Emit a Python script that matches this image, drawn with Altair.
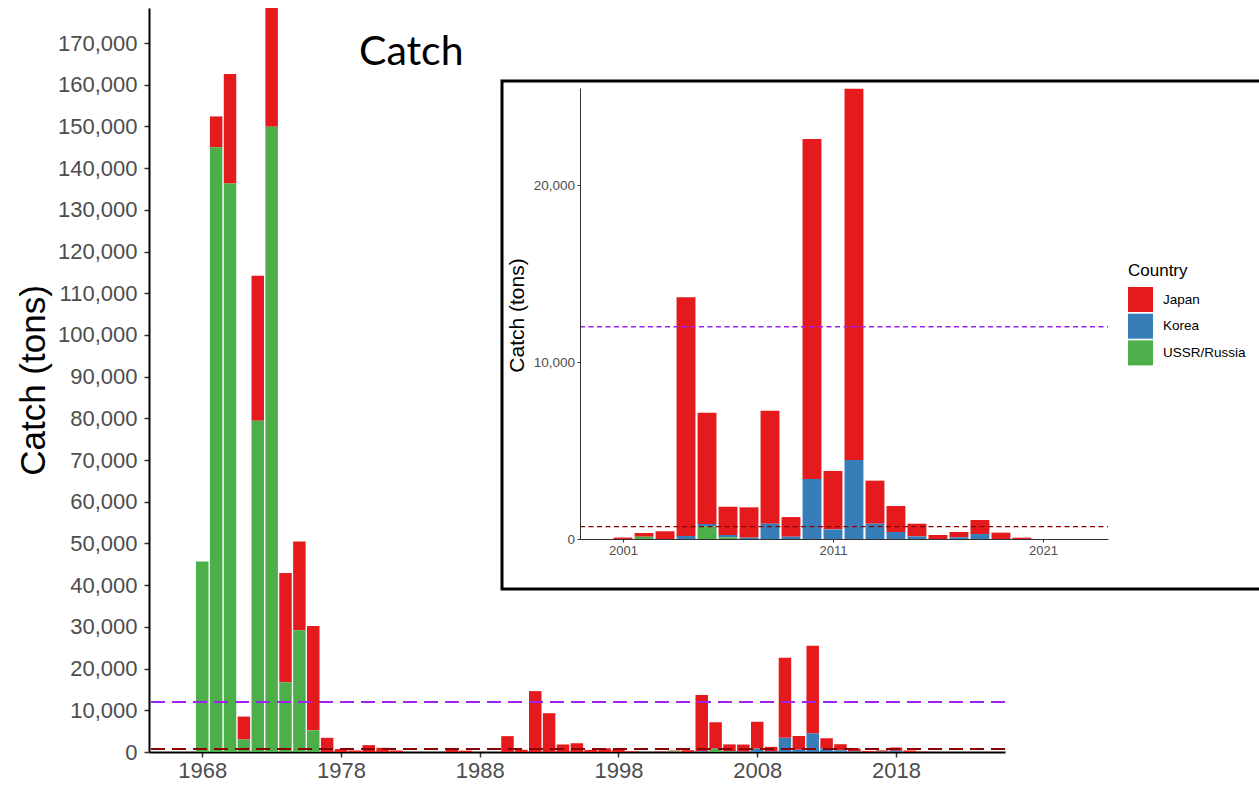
import altair as alt
import pandas as pd

# Annual catch (tons) by fishing country, 1968-2022
years = list(range(1968, 2023))
japan = [
    0, 7400, 26300, 5500, 34800, 28500, 26200, 21300, 25000, 3400,      # 1968-1977
    700, 360, 1650, 1000, 360, 0, 0, 0, 700, 320,                       # 1978-1987
    0, 0, 3800, 540, 14600, 9300, 1800, 2100, 500, 900,                 # 1988-1997
    500, 150, 0, 80, 210, 435, 13500, 6285, 1600, 1715,                 # 1998-2007
    6385, 1110, 19230, 3295, 21000, 2435, 1470, 715, 225, 300,          # 2008-2017
    795, 360, 75, 0, 0,                                                 # 2018-2022
]
korea = [
    0, 0, 0, 0, 0, 0, 0, 0, 0, 0,
    0, 0, 0, 0, 0, 0, 0, 0, 0, 0,
    0, 0, 0, 0, 0, 0, 0, 0, 0, 0,
    0, 0, 0, 0, 0, 0, 170, 150, 130, 75,
    865, 130, 3390, 545, 4460, 865, 395, 150, 0, 95,
    280, 0, 0, 0, 0,
]
ussr = [
    45700, 145000, 136300, 3000, 79400, 149900, 16700, 29200, 5200, 0,
    0, 0, 0, 0, 0, 0, 0, 0, 0, 0,
    0, 0, 0, 0, 0, 0, 0, 0, 0, 0,
    0, 0, 0, 0, 130, 0, 0, 700, 95, 0,
    0, 0, 0, 0, 0, 0, 0, 0, 0, 0,
    0, 0, 0, 0, 0,
]
countries = ["Japan", "Korea", "USSR/Russia"]
palette = ["#E41A1C", "#377EB8", "#4DAF4A"]
stack_rank = {"USSR/Russia": 0, "Korea": 1, "Japan": 2}

main_year_ticks = [1968, 1978, 1988, 1998, 2008, 2018]
main_catch_ticks = list(range(0, 170001, 10000))
inset_year_ticks = [2001, 2011, 2021]
inset_catch_ticks = [0, 10000, 20000]
upper_ref = 12000
lower_ref = 700

rows = []
for name, series in zip(countries, [japan, korea, ussr]):
    for yr, val in zip(years, series):
        if val > 0:
            rows.append({"Year": yr, "Country": name, "Catch": val,
                         "rank": stack_rank[name]})
catch = pd.DataFrame(rows)
one = pd.DataFrame({"k": [0]})

W, H = 856, 744
FONT = "Liberation Sans"

base = (
    alt.Chart(catch)
    .transform_calculate(x0="datum.Year - 0.45", x1="datum.Year + 0.45")
    .transform_stack(stack="Catch", groupby=["Year"], as_=["c0", "c1"],
                     sort=[alt.SortField("rank", "ascending")])
)
color_scale = alt.Scale(domain=countries, range=palette)

# ---------------- main panel ----------------
main_bars = base.mark_rect().encode(
    x=alt.X("x0:Q",
            scale=alt.Scale(domain=[1964.16, 2025.86], nice=False, zero=False),
            axis=alt.Axis(values=main_year_ticks, format="d", title=None,
                          labelFontSize=22, labelColor="#4d4d4d", labelPadding=3,
                          domainColor="black", domainWidth=2,
                          tickColor="#333333", tickWidth=1.5, tickSize=5)),
    x2="x1:Q",
    y=alt.Y("c0:Q",
            scale=alt.Scale(domain=[0, 178400], nice=False),
            axis=alt.Axis(values=main_catch_ticks, format=",d", title="Catch (tons)",
                          labelFontSize=22, labelColor="#4d4d4d", labelPadding=7,
                          domainColor="black", domainWidth=2,
                          tickColor="#333333", tickWidth=1.5, tickSize=5,
                          titleFontSize=35, titleColor="black", titleFontWeight="normal",
                          titleAngle=-90, titleX=-116, titleY=372,
                          titleAlign="center", titleBaseline="middle")),
    y2="c1:Q",
    color=alt.Color("Country:N", scale=color_scale, legend=None),
)
main_upper = alt.Chart(one).mark_rule(
    color="#A020F0", strokeWidth=2, strokeDash=[14, 7]
).encode(y=alt.datum(upper_ref))
main_lower = alt.Chart(one).mark_rule(
    color="#8B0000", strokeWidth=2, strokeDash=[14, 7]
).encode(y=alt.datum(lower_ref))
title = alt.Chart(one).mark_text(
    text="Catch", font="Lato", fontSize=41, align="left", baseline="alphabetic",
    color="black"
).encode(x=alt.value(210), y=alt.value(57))

main_panel = alt.layer(main_bars, main_upper, main_lower, title)

# ---------------- inset panel (2000 onward) ----------------
frame = alt.Chart(one).mark_rect(
    fill="white", stroke="black", strokeWidth=3
).encode(x=alt.value(353), x2=alt.value(1130), y=alt.value(73), y2=alt.value(581))

inset_x = alt.Scale(domain=[1998.95, 2024.1], range=[431, 959], nice=False, zero=False)
inset_y = alt.Scale(domain=[0, 25500], range=[531, 80], nice=False)

inset_bars = base.transform_filter("datum.Year >= 2000").mark_rect().encode(
    x=alt.X("x0:Q", scale=inset_x,
            axis=alt.Axis(orient="bottom", offset=-213, values=inset_year_ticks,
                          format="d", title=None, labelFontSize=13, labelColor="#4d4d4d",
                          labelPadding=2, domainColor="#333333", domainWidth=1,
                          tickColor="#333333", tickWidth=1, tickSize=3, zindex=2)),
    x2="x1:Q",
    y=alt.Y("c0:Q", scale=inset_y,
            axis=alt.Axis(orient="left", offset=-431, values=inset_catch_ticks,
                          format=",d", title="Catch (tons)", labelFontSize=13.5,
                          labelColor="#4d4d4d", labelPadding=2.5,
                          domainColor="#333333", domainWidth=1,
                          tickColor="#333333", tickWidth=1, tickSize=3,
                          titleFontSize=21, titleColor="black", titleFontWeight="normal",
                          titleAngle=-90, titleX=-63, titleY=307,
                          titleAlign="center", titleBaseline="middle", zindex=2)),
    y2="c1:Q",
    color=alt.Color("Country:N", scale=color_scale,
                    legend=alt.Legend(title="Country", orient="none",
                                      legendX=979, legendY=255,
                                      symbolType="square", symbolSize=625,
                                      symbolStrokeWidth=0, symbolOpacity=1,
                                      titleFontSize=17, titleFontWeight="normal",
                                      titleColor="black", titlePadding=7,
                                      labelFontSize=13.5, labelColor="black",
                                      labelOffset=10, rowPadding=1.7, padding=0)),
)
inset_upper = alt.Chart(one).mark_rule(
    color="#A020F0", strokeWidth=1.3, strokeDash=[5, 3.5]
).encode(x=alt.value(431), x2=alt.value(959), y=alt.datum(upper_ref))
inset_lower = alt.Chart(one).mark_rule(
    color="#8B0000", strokeWidth=1.3, strokeDash=[5, 3.5]
).encode(x=alt.value(431), x2=alt.value(959), y=alt.datum(lower_ref))

inset_panel = alt.layer(frame, inset_bars, inset_upper, inset_lower)

chart = (
    alt.layer(main_panel, inset_panel)
    .resolve_scale(x="independent", y="independent", color="independent")
    .properties(width=W, height=H,
                autosize=alt.AutoSizeParams(type="none"),
                padding={"left": 149, "top": 8, "right": 254, "bottom": 34})
    .configure_axis(grid=False, labelFont=FONT, titleFont=FONT)
    .configure_legend(labelFont=FONT, titleFont=FONT)
    .configure_view(strokeWidth=0)
)

chart.save("out.html", embed_options={"renderer": "svg", "actions": False})
